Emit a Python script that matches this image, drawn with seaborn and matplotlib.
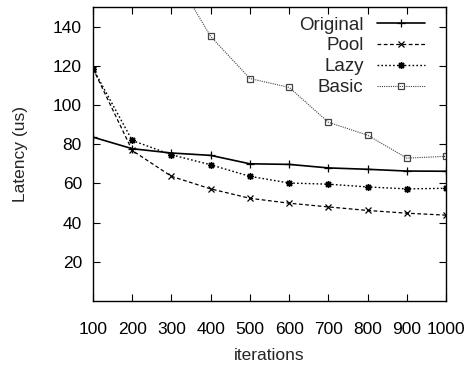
import matplotlib
matplotlib.use("Agg")
import matplotlib.pyplot as plt
import seaborn as sns
import pandas as pd

iterations = [100, 200, 300, 400, 500, 600, 700, 800, 900, 1000]
original = [83.6, 77.7, 75.5, 74.3, 70.0, 69.7, 67.9, 67.2, 66.3, 66.2]
pool = [118.6, 76.8, 63.6, 57.2, 52.4, 49.9, 48.0, 46.2, 44.8, 43.8]
lazy = [118.6, 81.9, 74.6, 69.5, 63.6, 60.2, 59.6, 58.2, 57.2, 57.5]
basic = [300.0, 220.0, 168.5, 135.0, 113.5, 109.0, 91.2, 84.6, 72.9, 73.8]

series_names = ["Original", "Pool", "Lazy", "Basic"]
series_values = [original, pool, lazy, basic]
y_ticks = [20, 40, 60, 80, 100, 120, 140]

sns.set_theme(style="ticks")
plt.rcParams["font.family"] = ["Liberation Sans", "DejaVu Sans"]

styles = {
    "Original": dict(color="black", linestyle="-", marker="+", markersize=6, lw=1.2, mew=0.9),
    "Pool": dict(color="black", linestyle=(0, (3, 2)), marker="x", markersize=4.5, lw=0.9, mew=0.9),
    "Lazy": dict(color="black", linestyle=(0, (1.2, 1.6)), marker=(8, 2, 0), markersize=5, lw=1.0, mew=1.0),
    "Basic": dict(color="#444444", linestyle=(0, (1, 1)), marker="s", markersize=5, lw=0.8, mew=0.9,
                  markerfacecolor="none"),
}

fig = plt.figure(figsize=(4.70, 3.69), dpi=100)
ax = fig.add_axes([93 / 470, 1 - 301 / 369, (446 - 93) / 470, (301 - 7) / 369])

for name, vals in zip(series_names, series_values):
    df = pd.DataFrame({"iterations": iterations, "latency": vals})
    st = dict(styles[name])
    sns.lineplot(data=df, x="iterations", y="latency", ax=ax, label=name,
                 color=st.pop("color"), linestyle=st.pop("linestyle"),
                 marker=st.pop("marker"), markersize=st.pop("markersize"),
                 linewidth=st.pop("lw"), markeredgewidth=st.pop("mew"),
                 markeredgecolor=styles[name]["color"], clip_on=True, **st)

ax.set_xlim(100, 1000)
ax.set_ylim(0, 150)
ax.set_xticks(iterations)
ax.set_xticklabels([str(v) for v in iterations])
ax.set_yticks(y_ticks)
ax.set_yticklabels([str(v) for v in y_ticks])
ax.tick_params(direction="in", length=5, width=0.8, top=True, right=True,
               labelsize=12.5, colors="black", pad=8)
ax.tick_params(axis="x", pad=15)
for sp in ax.spines.values():
    sp.set_visible(True)
    sp.set_linewidth(1.0)
    sp.set_color("black")

ax.set_xlabel("iterations", fontsize=12.5, labelpad=8)
ax.set_ylabel("Latency (us)", fontsize=12.5, labelpad=18)

leg = ax.legend(loc="upper right", frameon=False, markerfirst=False, fontsize=13.5,
                handlelength=2.55, handletextpad=0.7, labelspacing=0.2,
                borderaxespad=0.1, bbox_to_anchor=(0.966, 1.0))

fig.savefig("out.png", dpi=100)
